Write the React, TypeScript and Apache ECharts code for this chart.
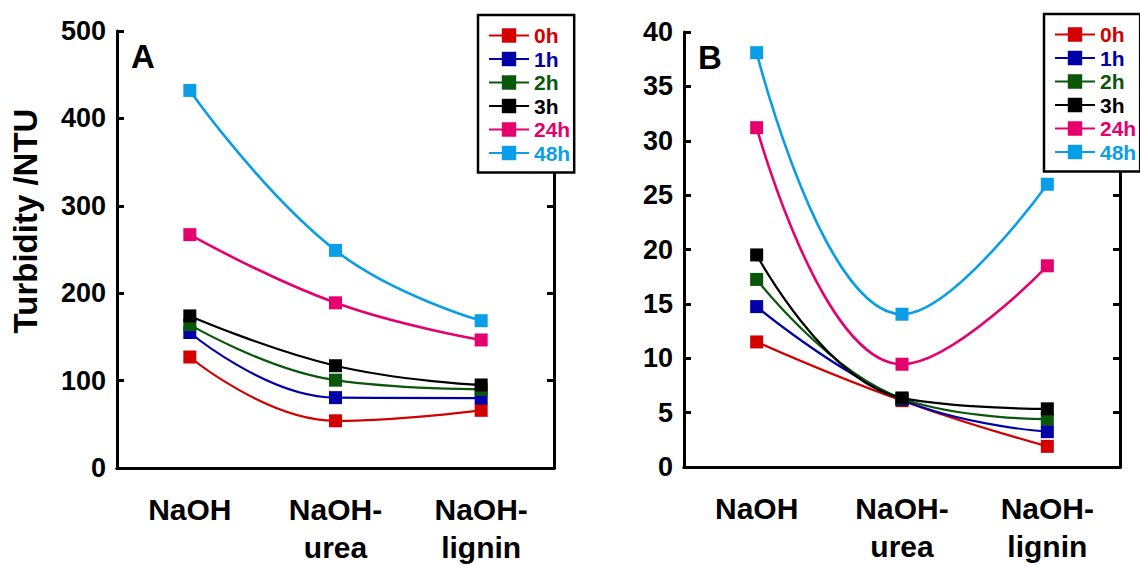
import React, { useEffect, useRef } from "react";
import * as echarts from "echarts";

const categories = ["NaOH", "NaOH-\nurea", "NaOH-\nlignin"];
const seriesNames = ["0h", "1h", "2h", "3h", "24h", "48h"];
const seriesColors = ["#d40000", "#0000a8", "#0a560a", "#000000", "#e6006e", "#0a9ee8"];
const lineWidths = [2.2, 2.2, 2.2, 2.2, 2.6, 2.6];

// Panel A: Turbidity (NTU)
const panelA_0h = [127, 54, 66];
const panelA_1h = [155, 80.5, 80];
const panelA_2h = [164, 100.5, 90];
const panelA_3h = [174, 117, 95];
const panelA_24h = [267, 189, 146.5];
const panelA_48h = [432, 249, 168.5];

// Panel B: Turbidity (NTU)
const panelB_0h = [11.5, 6.1, 1.9];
const panelB_1h = [14.75, 6.2, 3.25];
const panelB_2h = [17.25, 6.3, 4.4];
const panelB_3h = [19.5, 6.35, 5.35];
const panelB_24h = [31.2, 9.45, 18.5];
const panelB_48h = [38.1, 14.05, 26.0];

const yTicksA = { min: 0, max: 500, interval: 100 };
const yTicksB = { min: 0, max: 40, interval: 5 };

const panelAData = [panelA_0h, panelA_1h, panelA_2h, panelA_3h, panelA_24h, panelA_48h];
const panelBData = [panelB_0h, panelB_1h, panelB_2h, panelB_3h, panelB_24h, panelB_48h];

const FONT = "'Liberation Sans', Arial, Helvetica, sans-serif";

export default function App() {
  const ref = useRef<HTMLDivElement>(null);

  useEffect(() => {
    document.body.style.margin = "0";
    if (!ref.current) return;
    const chart = echarts.init(ref.current, null, { renderer: "svg" });

    const axisLineStyle = { color: "#000", width: 3 };
    const tickStyle = { color: "#000", width: 3 };

    const grids = [
      { left: 117, top: 31, width: 437, height: 437, containLabel: false, outerBoundsMode: "none" },
      { left: 684, top: 32, width: 436, height: 435, containLabel: false, outerBoundsMode: "none" },
    ];

    const xAxes: any[] = [];
    const yAxes: any[] = [];
    [0, 1].forEach((g) => {
      xAxes.push({
        gridIndex: g,
        type: "category",
        data: categories,
        position: "bottom",
        boundaryGap: true,
        axisLine: { lineStyle: axisLineStyle },
        axisTick: { inside: true, alignWithLabel: true, length: 7, lineStyle: tickStyle },
        axisLabel: {
          color: "#000",
          fontSize: 30,
          fontWeight: "bold",
          fontFamily: FONT,
          lineHeight: 38,
          margin: 22,
          interval: 0,
        },
        splitLine: { show: false },
      });
      xAxes.push({
        gridIndex: g,
        type: "category",
        data: categories,
        position: "top",
        boundaryGap: true,
        axisLine: { lineStyle: axisLineStyle },
        axisTick: { inside: true, alignWithLabel: true, length: 7, lineStyle: tickStyle },
        axisLabel: { show: false },
        splitLine: { show: false },
      });
      const t = g === 0 ? yTicksA : yTicksB;
      yAxes.push({
        gridIndex: g,
        type: "value",
        position: "left",
        min: t.min,
        max: t.max,
        interval: t.interval,
        axisLine: { show: true, lineStyle: axisLineStyle },
        axisTick: { show: true, inside: true, length: 7, lineStyle: tickStyle },
        axisLabel: {
          color: "#000",
          fontSize: 27,
          fontWeight: "bold",
          fontFamily: FONT,
          margin: 11,
        },
        splitLine: { show: false },
      });
      yAxes.push({
        gridIndex: g,
        type: "value",
        position: "right",
        min: t.min,
        max: t.max,
        interval: t.interval,
        axisLine: { show: true, lineStyle: axisLineStyle },
        axisTick: { show: true, inside: true, length: 7, lineStyle: tickStyle },
        axisLabel: { show: false },
        splitLine: { show: false },
      });
    });

    const series: any[] = [];
    [panelAData, panelBData].forEach((panel, g) => {
      panel.forEach((vals, i) => {
        series.push({
          name: seriesNames[i],
          type: "line",
          xAxisIndex: g * 2,
          yAxisIndex: g * 2,
          data: vals,
          smooth: 0.45,
          symbol: "rect",
          symbolSize: 13,
          lineStyle: { color: seriesColors[i], width: lineWidths[i] },
          itemStyle: { color: seriesColors[i] },
          z: 2 + i,
        });
      });
    });

    const legendCommon = {
      orient: "vertical",
      itemWidth: 40,
      itemHeight: 18,
      itemGap: 2.5,
      backgroundColor: "#fff",
      borderColor: "#000",
      borderWidth: 2.5,
      borderRadius: 0,
      padding: [10, 4, 9, 10],
      textStyle: { fontSize: 21, fontWeight: "bold", fontFamily: FONT, lineHeight: 21 },
      data: seriesNames.map((n, i) => ({ name: n, textStyle: { color: seriesColors[i] } })),
      z: 10,
    };

    chart.setOption({
      animation: false,
      backgroundColor: "#fff",
      grid: grids,
      xAxis: xAxes,
      yAxis: yAxes,
      series,
      legend: [
        { ...legendCommon, left: 478, top: 15 },
        { ...legendCommon, left: 1044, top: 14 },
      ],
      graphic: [
        {
          type: "text",
          left: 131,
          top: 40,
          style: { text: "A", fontSize: 33, fontWeight: "bold", fontFamily: FONT, fill: "#000" },
          z: 10,
        },
        {
          type: "text",
          left: 698,
          top: 41,
          style: { text: "B", fontSize: 33, fontWeight: "bold", fontFamily: FONT, fill: "#000" },
          z: 10,
        },
        {
          type: "text",
          x: 25,
          y: 221,
          rotation: Math.PI / 2,
          style: {
            text: "Turbidity /NTU",
            fontSize: 33,
            fontWeight: "bold",
            fontFamily: FONT,
            fill: "#000",
            align: "center",
            verticalAlign: "middle",
          },
        },
      ],
    });

    return () => chart.dispose();
  }, []);

  return <div ref={ref} style={{ width: 1140, height: 566 }} />;
}
